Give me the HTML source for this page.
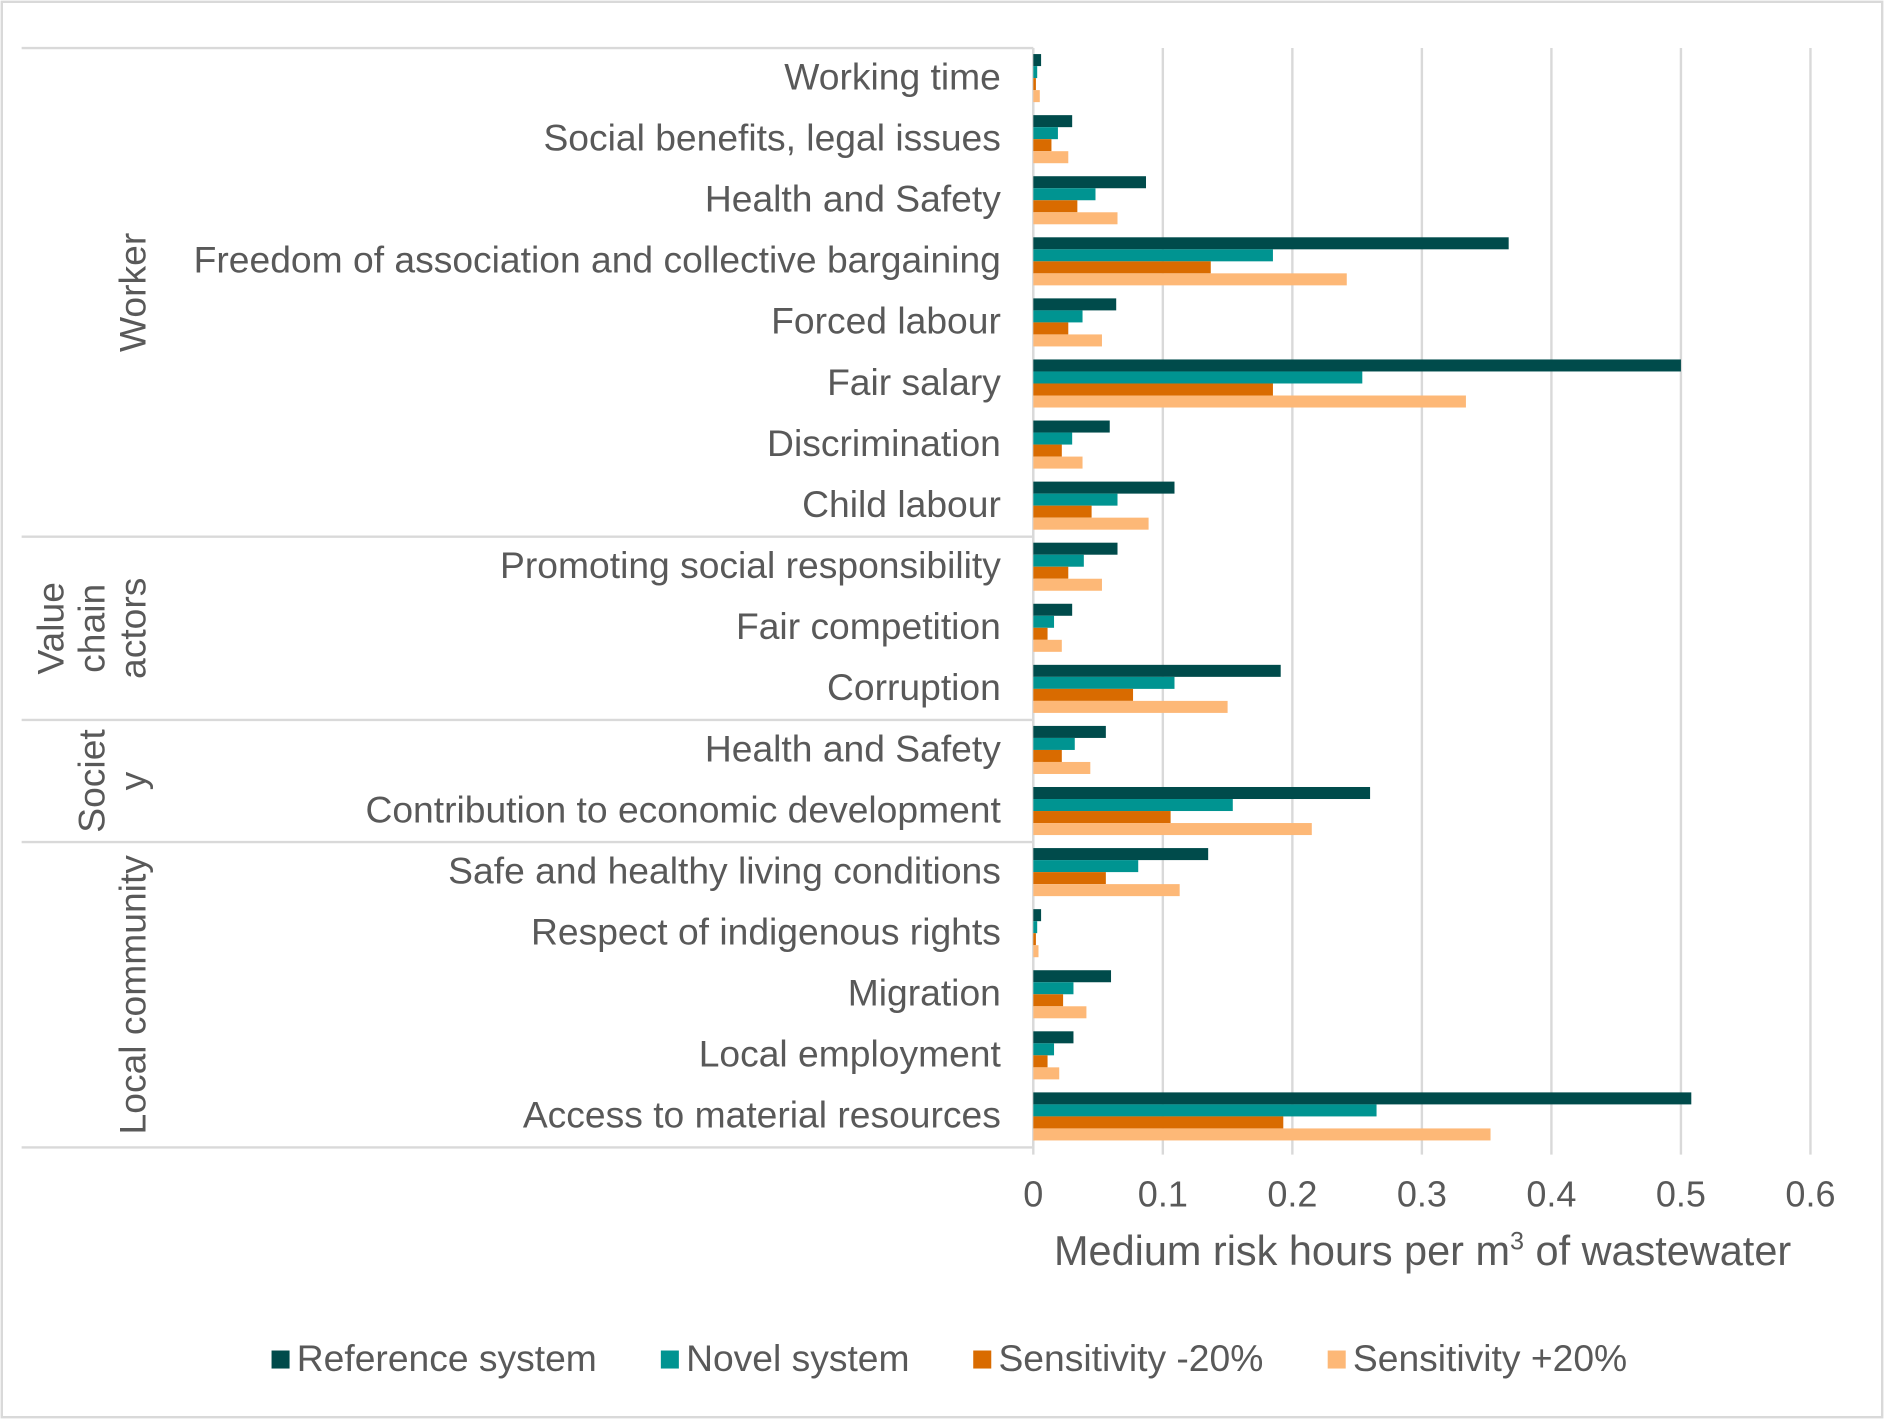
<!DOCTYPE html>
<html><head><meta charset="utf-8"><style>
html,body{margin:0;padding:0;background:#fff}
svg{display:block}
text{font-family:"Liberation Sans",sans-serif;fill:#595959}
</style></head><body>
<svg id="chart" width="1884" height="1419" viewBox="0 0 1568 1181" xmlns="http://www.w3.org/2000/svg">
<rect x="1.5" y="1.5" width="1565" height="1178" fill="#fff" stroke="#d9d9d9" stroke-width="2"/>
<g id="grid"></g>
<g id="groups"></g>
<g id="bars"></g>
<g id="labels"></g>
<g id="ticks"></g>
<text x="1184" y="1053" font-size="34.5" text-anchor="middle">Medium risk hours per m<tspan font-size="21" dy="-13">3</tspan><tspan dy="13"> of wastewater</tspan></text>
<g id="legend"></g>
</svg>
<script>
const categories=["Working time","Social benefits, legal issues","Health and Safety","Freedom of association and collective bargaining","Forced labour","Fair salary","Discrimination","Child labour","Promoting social responsibility","Fair competition","Corruption","Health and Safety","Contribution to economic development","Safe and healthy living conditions","Respect of indigenous rights","Migration","Local employment","Access to material resources"];
const referenceSystem=[0.006,0.030,0.087,0.367,0.064,0.500,0.059,0.109,0.065,0.030,0.191,0.056,0.260,0.135,0.006,0.060,0.031,0.508];
const novelSystem=[0.003,0.019,0.048,0.185,0.038,0.254,0.030,0.065,0.039,0.016,0.109,0.032,0.154,0.081,0.003,0.031,0.016,0.265];
const sensitivityMinus=[0.002,0.014,0.034,0.137,0.027,0.185,0.022,0.045,0.027,0.011,0.077,0.022,0.106,0.056,0.002,0.023,0.011,0.193];
const sensitivityPlus=[0.005,0.027,0.065,0.242,0.053,0.334,0.038,0.089,0.053,0.022,0.150,0.044,0.215,0.113,0.004,0.041,0.020,0.353];
const tickValues=[0,0.1,0.2,0.3,0.4,0.5,0.6];
const tickLabels=["0","0.1","0.2","0.3","0.4","0.5","0.6"];
const groupNames=[["Worker"],["Value","chain","actors"],["Societ","y"],["Local community"]];
const groupSizes=[8,3,2,5];
const seriesNames=["Reference system","Novel system","Sensitivity -20%","Sensitivity +20%"];

const NS="http://www.w3.org/2000/svg";
const colors=["#004b4b","#009491","#d96b00","#fdb877"];
const X0=860,PX=1078,TOP=40,BOT=955;
const rowH=(BOT-TOP)/categories.length;
const xs=v=>X0+v*PX;
function mk(tag,attrs,parent){const e=document.createElementNS(NS,tag);for(const k in attrs)e.setAttribute(k,attrs[k]);parent.appendChild(e);return e;}
const grid=document.getElementById('grid'),bars=document.getElementById('bars'),labels=document.getElementById('labels'),ticks=document.getElementById('ticks'),groups=document.getElementById('groups'),legend=document.getElementById('legend');
tickValues.forEach((v,i)=>{
  const l=mk('line',{x1:xs(v),x2:xs(v),y1:TOP,y2:BOT+6,stroke:'#d9d9d9','stroke-width':2},grid);
  
  
  const t=mk('text',{x:xs(v),y:1004,'font-size':30,'text-anchor':'middle'},ticks);
  t.textContent=tickLabels[i];
  
  
});
const series=[referenceSystem,novelSystem,sensitivityMinus,sensitivityPlus];
categories.forEach((c,i)=>{
  const top=TOP+i*rowH;
  series.forEach((s,j)=>{
    const r=mk('rect',{x:X0,y:top+5+j*10,width:Math.max(0,xs(s[i])-X0),height:10,fill:colors[j]},bars);
    
    
  });
  const t=mk('text',{x:833,y:top+rowH/2+9,'font-size':31,'text-anchor':'end'},labels);
  t.textContent=c;
  
  
});
mk('line',{x1:X0,x2:X0,y1:TOP,y2:BOT,stroke:'#d9d9d9','stroke-width':2},grid);
let idx=0;
const sep=y=>{const l=mk('line',{x1:18,x2:X0,y1:y,y2:y,stroke:'#d9d9d9','stroke-width':2},groups);};
sep(TOP);
groupSizes.forEach((n,g)=>{
  const y0=TOP+idx*rowH,y1=TOP+(idx+n)*rowH;idx+=n;sep(y1);
  const cy=(y0+y1)/2,lines=groupNames[g];
  lines.forEach((ln,k)=>{
    const cx=110-(lines.length-1-k)*34;
    const t=mk('text',{x:cx,y:cy,'font-size':31,'text-anchor':'middle',transform:`rotate(-90 ${cx} ${cy})`,dy:11},groups);
    t.textContent=ln;
    
    
  });
});
const lx=[226,550,810,1105];
seriesNames.forEach((n,j)=>{
  const g=mk('g',{},legend);
  
  
  mk('rect',{x:lx[j],y:1124,width:15,height:15,fill:colors[j]},g);
  const t=mk('text',{x:lx[j]+21,y:1141,'font-size':31},g);
  t.textContent=n;
});
</script>
</body></html>
